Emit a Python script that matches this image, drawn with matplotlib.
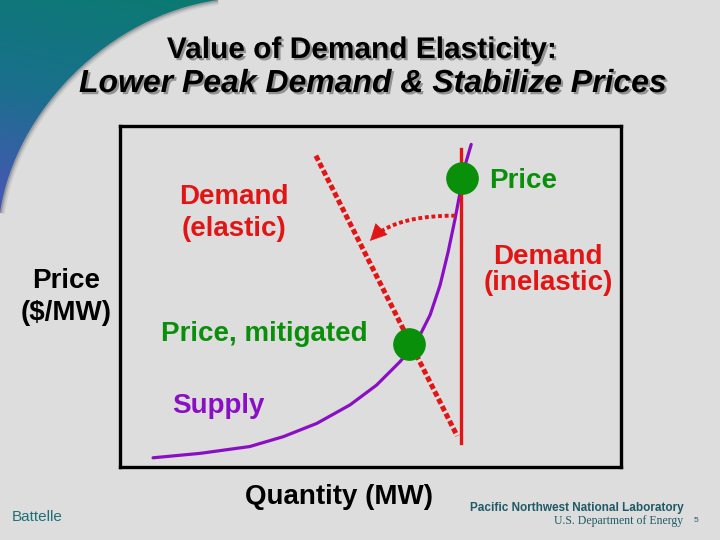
import numpy as np
import matplotlib
matplotlib.use("Agg")
import matplotlib.pyplot as plt
from matplotlib.path import Path
from matplotlib.patches import PathPatch

plt.rcParams['font.family'] = ['Liberation Sans', 'DejaVu Sans']
import matplotlib.patheffects as pe

# supply curve (quantity, price) in chart units 0..100
supply_q = [6.6, 16.0, 25.9, 32.6, 39.3, 45.9, 51.2, 55.9, 59.2, 61.9, 63.9, 65.5, 66.9, 67.9, 68.9, 70.1]
supply_p = [2.7, 4.0, 6.0, 8.9, 12.8, 18.2, 24.0, 30.9, 36.7, 44.6, 53.4, 63.1, 72.9, 80.7, 88.6, 94.6]

# inelastic demand (vertical) and elastic demand (dotted)
inelastic_q = [68.0, 68.0]
inelastic_p = [93.3, 7.0]
elastic_q = [39.1, 67.3]
elastic_p = [91.3, 9.1]

# market clearing points
price_pt = (68.2, 84.7)
mitigated_pt = (57.7, 36.0)

# curved arrow: start, bend, tip
arrow_q = [66.9, 54.3, 49.9]
arrow_p = [73.7, 73.7, 66.3]

RED = '#e21515'
GREEN = '#0a8f0a'
PURPLE = '#8a0fc4'
BG = '#dddddd'

W, H = 720, 540
fig = plt.figure(figsize=(7.2, 5.4), dpi=100)
fig.patch.set_facecolor(BG)


def fx(x):
    return x / W


def fy(y):
    return 1 - y / H


# background layer in slide pixels
bg = fig.add_axes([0, 0, 1, 1])
bg.set_xlim(0, W)
bg.set_ylim(H, 0)
bg.axis('off')
bg.set_facecolor(BG)

# teal swoosh in top-left corner
verts = [(0, 0), (218, 0), (110, 15), (15, 110), (0, 213), (0, 0)]
codes = [Path.MOVETO, Path.LINETO, Path.CURVE4, Path.CURVE4, Path.CURVE4, Path.CLOSEPOLY]
edge_path = Path(verts[1:5], [Path.MOVETO, Path.CURVE4, Path.CURVE4, Path.CURVE4])
# soft shadow along the outer edge
for lw, a in [(7, 0.10), (4.5, 0.15), (2.5, 0.25)]:
    bg.add_patch(PathPatch(edge_path, facecolor='none', edgecolor='#404850', lw=lw,
                           alpha=a, zorder=1))
swoosh = PathPatch(Path(verts, codes), facecolor='none', edgecolor='none')
bg.add_patch(swoosh)
yy, xx = np.mgrid[0:1:200j, 0:1:200j]
t = np.clip(0.8 * yy + 0.2 * (1 - xx), 0, 1)[..., None]
c0 = np.array([0.04, 0.48, 0.44])
c1 = np.array([0.10, 0.44, 0.55])
c2 = np.array([0.30, 0.33, 0.72])
img = np.where(t < 0.5, c0 + (c1 - c0) * (t / 0.5), c1 + (c2 - c1) * ((t - 0.5) / 0.5))
im = bg.imshow(img, extent=[0, 220, 215, 0], aspect='auto', zorder=2)
im.set_clip_path(swoosh)

# title
shadow = [pe.SimplePatchShadow(offset=(1.6, -1.6), shadow_rgbFace='#8a8a8a', alpha=0.9), pe.Normal()]
fig.text(fx(362), fy(50), 'Value of Demand Elasticity:', ha='center', va='center',
         fontsize=21.5, fontweight='bold', path_effects=shadow)
fig.text(fx(373), fy(84), 'Lower Peak Demand & Stabilize Prices', ha='center', va='center',
         fontsize=23, fontweight='bold', style='italic', path_effects=shadow)

# chart box
left, right, top, bottom = 120, 621, 126, 467
ax = fig.add_axes([fx(left), fy(bottom), (right - left) / W, (bottom - top) / H])
ax.set_xlim(0, 100)
ax.set_ylim(0, 100)
ax.set_facecolor(BG)
ax.set_xticks([])
ax.set_yticks([])
for s in ax.spines.values():
    s.set_linewidth(2.4)
    s.set_color('black')

ax.plot(supply_q, supply_p, color=PURPLE, lw=2.3, solid_capstyle='round',
        solid_joinstyle='round', zorder=2)
ax.plot(inelastic_q, inelastic_p, color=RED, lw=2.4, zorder=3)
ax.plot(elastic_q, elastic_p, color=RED, lw=3.6, linestyle=(0, (1.1, 0.55)),
        dash_capstyle='butt', zorder=3)
ax.plot(*price_pt, 'o', color=GREEN, ms=22.5, mec=GREEN, zorder=5)
ax.plot(*mitigated_pt, 'o', color=GREEN, ms=22.5, mec=GREEN, zorder=5)

# dotted curved arrow (quadratic bezier through the bend point)
s = np.linspace(0, 0.93, 60)
bq = (1 - s) ** 2 * arrow_q[0] + 2 * (1 - s) * s * arrow_q[1] + s ** 2 * arrow_q[2]
bp = (1 - s) ** 2 * arrow_p[0] + 2 * (1 - s) * s * arrow_p[1] + s ** 2 * arrow_p[2]
ax.plot(bq, bp, color=RED, lw=2.8, linestyle=(0, (1, 0.7)), dash_capstyle='butt', zorder=4)
ax.annotate('', xy=(arrow_q[2], arrow_p[2]), xytext=(bq[-1], bp[-1]),
            arrowprops=dict(arrowstyle='-|>,head_length=0.7,head_width=0.35',
                            color=RED, lw=0.5, mutation_scale=16,
                            shrinkA=0, shrinkB=0), zorder=4)

# labels
fs = 20
fig.text(fx(234), fy(213), 'Demand\n(elastic)', color=RED, ha='center', va='center',
         fontsize=fs, fontweight='bold', linespacing=1.3)
fig.text(fx(489), fy(181), 'Price', color=GREEN, ha='left', va='center',
         fontsize=fs, fontweight='bold')
fig.text(fx(548), fy(270), 'Demand\n(inelastic)', color=RED, ha='center', va='center',
         fontsize=fs, fontweight='bold', linespacing=1.05)
fig.text(fx(161), fy(334), 'Price, mitigated', color=GREEN, ha='left', va='center',
         fontsize=fs, fontweight='bold')
fig.text(fx(172), fy(406), 'Supply', color=PURPLE, ha='left', va='center',
         fontsize=fs, fontweight='bold')
fig.text(fx(66), fy(297), 'Price\n($/MW)', color='black', ha='center', va='center',
         fontsize=fs, fontweight='bold', linespacing=1.25)
fig.text(fx(339), fy(497), 'Quantity (MW)', color='black', ha='center', va='center',
         fontsize=fs, fontweight='bold')

# footer logos
fig.text(fx(12), fy(517), 'Battelle', color='#1f6f78', ha='left', va='center', fontsize=11)
fig.text(fx(684), fy(508), 'Pacific Northwest National Laboratory', color='#1f5a66',
         ha='right', va='center', fontsize=8.5, fontweight='bold')
fig.text(fx(683), fy(521), 'U.S. Department of Energy', color='#1f5a66',
         ha='right', va='center', fontsize=8.5,
         family=['Liberation Serif', 'DejaVu Serif'])
fig.text(fx(694), fy(521), '5', color='#1f5a66', ha='left', va='center', fontsize=6)

fig.savefig('out.png', dpi=100, facecolor=BG)
